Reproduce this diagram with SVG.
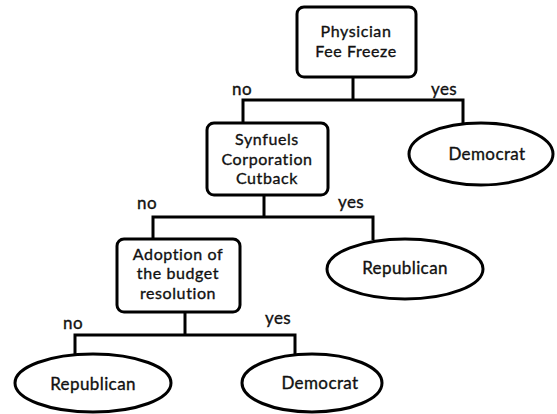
<svg xmlns="http://www.w3.org/2000/svg" width="557" height="414" viewBox="0 0 557 414">
<style>
.box{fill:#fff;stroke:#000;stroke-width:3}
.leaf{fill:#fff;stroke:#000;stroke-width:3}
.edge{fill:none;stroke:#000;stroke-width:3}
text{font-family:Lato,"Open Sans",sans-serif;font-size:17px;fill:#111;stroke:#111;stroke-width:0.35;letter-spacing:0.4px}
.c{text-anchor:middle}
.m{font-size:16px;letter-spacing:0.6px}
</style>
<rect width="557" height="414" fill="#fff"/>
<g id="connectors">
<polyline class="edge" points="353,77 353,100"/>
<polyline class="edge" points="243,123 243,100 463,100 463,123"/>
<polyline class="edge" points="264,195 264,217"/>
<polyline class="edge" points="153,240 153,217 373,217 373,240"/>
<polyline class="edge" points="185,312 185,335"/>
<polyline class="edge" points="75,354 75,335 295,335 295,354"/>
<text x="232" y="95">no</text>
<text x="431" y="95">yes</text>
<text x="137" y="209">no</text>
<text x="338" y="208">yes</text>
<text x="63" y="329">no</text>
<text x="265" y="324">yes</text>
</g>
<g id="physician">
<rect class="box" x="297" y="7" width="119" height="70" rx="7"/>
<text class="c m" x="356" y="37">Physician</text>
<text class="c m" x="356" y="57">Fee Freeze</text>
</g>
<g id="democrat1">
<ellipse class="leaf" cx="481" cy="154" rx="72" ry="31"/>
<text class="c" x="487" y="160">Democrat</text>
</g>
<g id="synfuels">
<rect class="box" x="207" y="123" width="121" height="72" rx="7"/>
<text class="c m" x="267" y="145">Synfuels</text>
<text class="c m" x="267" y="165">Corporation</text>
<text class="c m" x="267" y="184">Cutback</text>
</g>
<g id="republican1">
<ellipse class="leaf" cx="405" cy="269" rx="78" ry="30"/>
<text class="c" x="405" y="274">Republican</text>
</g>
<g id="adoption">
<rect class="box" x="117" y="239" width="123" height="73" rx="7"/>
<text class="c m" x="178" y="260">Adoption of</text>
<text class="c m" x="178" y="279">the budget</text>
<text class="c m" x="178" y="299">resolution</text>
</g>
<g id="republican2">
<ellipse class="leaf" cx="93" cy="383" rx="78" ry="29"/>
<text class="c" x="93" y="390">Republican</text>
</g>
<g id="democrat2">
<ellipse class="leaf" cx="312" cy="383" rx="70" ry="29"/>
<text class="c" x="320" y="389">Democrat</text>
</g>
</svg>
